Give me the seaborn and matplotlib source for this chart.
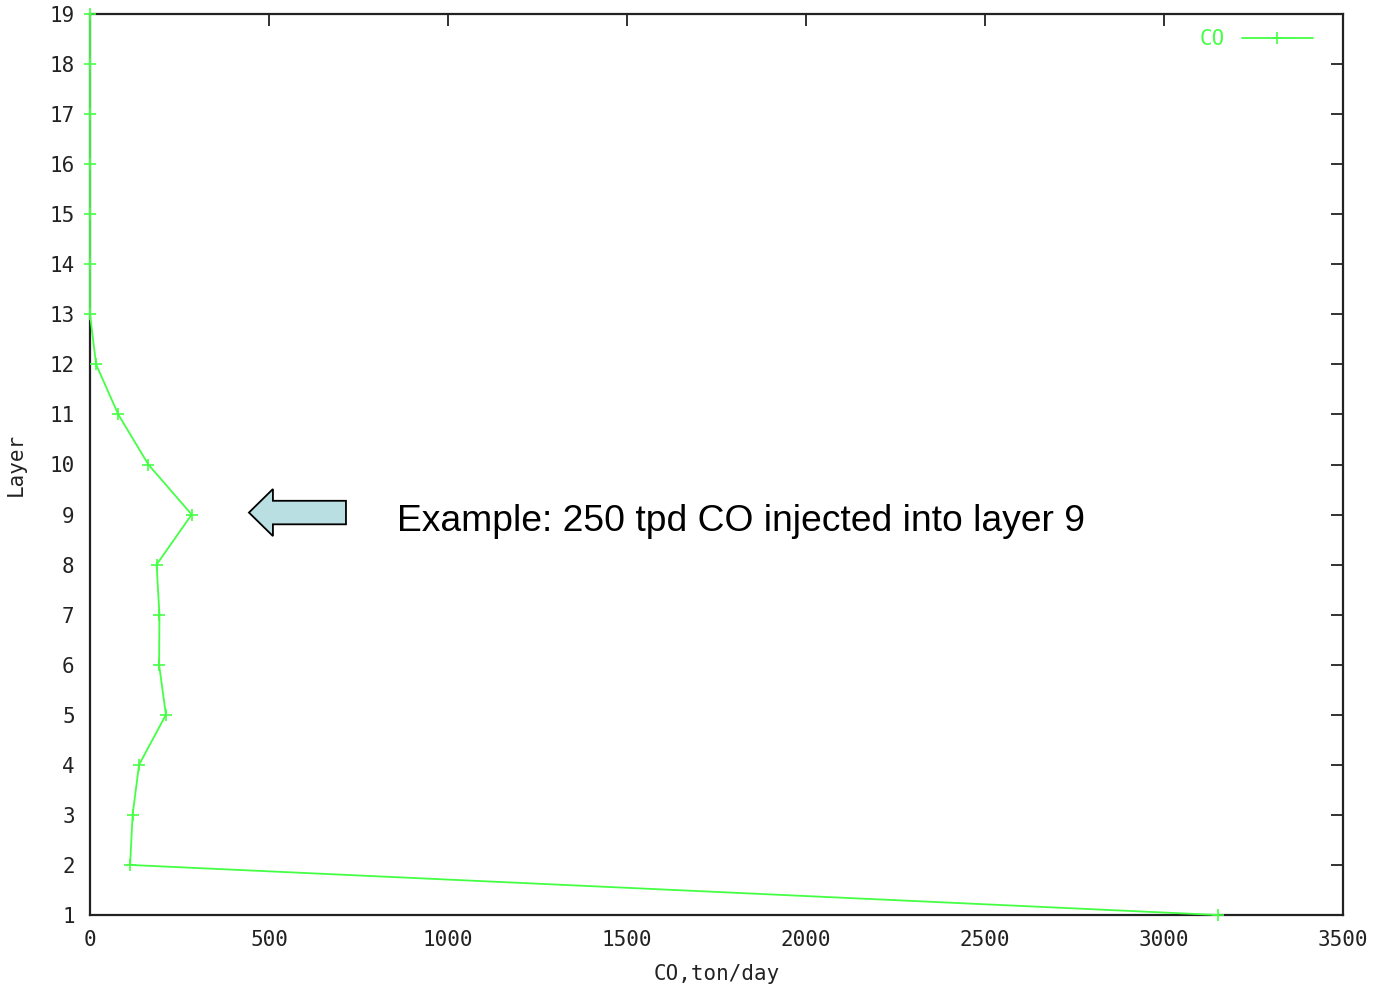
import matplotlib
matplotlib.use("Agg")
import matplotlib.pyplot as plt
import seaborn as sns
import numpy as np
import pandas as pd
from matplotlib.patches import FancyArrow

layers = [1, 2, 3, 4, 5, 6, 7, 8, 9, 10, 11, 12, 13, 14, 15, 16, 17, 18, 19]
co_values = [3150, 112, 119, 137, 212, 193, 194, 186, 284, 163, 79, 17, 0, 0, 0, 0, 0, 0, 0]
x_ticks = [0, 500, 1000, 1500, 2000, 2500, 3000, 3500]
y_ticks = layers
annotation_text = "Example: 250 tpd CO injected into layer 9"
series_name = "CO"

df = pd.DataFrame({"co": co_values, "layer": layers})

sns.set_style("white")
plt.rcParams["font.family"] = ["DejaVu Sans Mono"]

fig = plt.figure(figsize=(13.89, 9.86), dpi=100)
ax = fig.add_axes([90 / 1389, 1 - 915 / 986, 1253 / 1389, 901 / 986])

green = "#44ff44"
sns.lineplot(data=df, x="co", y="layer", sort=False, estimator=None, ax=ax,
             color=green, linewidth=1.3, marker="+", markersize=9,
             markeredgewidth=1.2, markeredgecolor=green, label=series_name,
             clip_on=False, zorder=3)

ax.set_xlim(0, 3500)
ax.set_ylim(1, 19)
ax.set_xticks(x_ticks)
ax.set_yticks(y_ticks)
ax.set_xticklabels([str(v) for v in x_ticks])
ax.set_yticklabels([str(v) for v in y_ticks])
ax.tick_params(axis="both", direction="in", length=8.5, width=1.3, color="#222222",
               labelsize=15, labelcolor="#222222", top=True, right=True, pad=11)
ax.tick_params(axis="x", pad=11)
for s in ax.spines.values():
    s.set_visible(True)
    s.set_color("#222222")
    s.set_linewidth(1.6)

ax.set_xlabel("CO,ton/day", fontsize=15, color="#222222")
ax.set_ylabel("Layer", fontsize=15, color="#222222")
ax.xaxis.set_label_coords(0.5, -0.054)
ax.yaxis.set_label_coords(-0.051, 0.5)

arrow = FancyArrow(715, 9.04, -271, 0, width=0.47, head_width=0.94, head_length=67,
                   length_includes_head=True, facecolor="#b9dfe2", edgecolor="black",
                   linewidth=1.3, zorder=4)
ax.add_patch(arrow)
ax.text(858, 8.87, annotation_text, fontsize=26.8, family=["Liberation Sans"],
        va="center", ha="left", color="black")

leg = ax.legend(loc="upper right", bbox_to_anchor=(0.9824, 0.9926), frameon=False,
                markerfirst=False, fontsize=15, handlelength=3.4, borderaxespad=0,
                labelcolor=green)

fig.savefig("out.png", dpi=100)
